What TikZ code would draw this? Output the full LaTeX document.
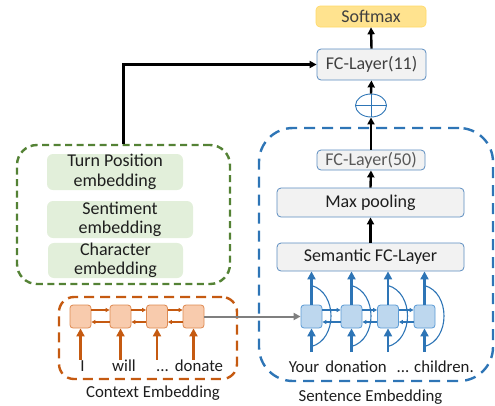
\documentclass[tikz,border=0pt]{standalone}
\usepackage{fontspec}
\setmainfont{Carlito}
\usetikzlibrary{arrows.meta,shapes.geometric,calc}
\definecolor{txtdark}{HTML}{1E1E1E}
\definecolor{txtgrey}{HTML}{404040}
\definecolor{txtlight}{HTML}{595959}
\definecolor{boxblue}{HTML}{5B8CC0}
\definecolor{boxfill}{HTML}{F2F2F2}
\definecolor{softfill}{HTML}{FFE38F}
\definecolor{softdraw}{HTML}{FFD966}
\definecolor{grnfill}{HTML}{E2EFDA}
\definecolor{grndash}{HTML}{548235}
\definecolor{orgdash}{HTML}{C55A11}
\definecolor{orgfill}{HTML}{F8CBAD}
\definecolor{orgdraw}{HTML}{DE8A52}
\definecolor{bludash}{HTML}{2E75B6}
\definecolor{blufill}{HTML}{BDD7EE}
\definecolor{bludraw}{HTML}{5B9BD5}
\definecolor{arrgrey}{HTML}{7F7F7F}
\begin{document}
\begin{tikzpicture}[x=1pt,y=-1pt,
  big/.style={font=\fontsize{18}{19.5}\selectfont},
  small/.style={font=\fontsize{16.8}{18}\selectfont},
  fcbox/.style={big,draw=boxblue,line width=0.8pt,fill=boxfill,rounded corners=4pt,inner sep=0pt,text=txtgrey},
  softbox/.style={big,draw=softdraw,line width=0.6pt,fill=softfill,rounded corners=4pt,inner sep=0pt,text=txtgrey},
  grnbox/.style={big,fill=grnfill,rounded corners=6pt,inner sep=0pt,text=txtdark,align=center},
  grncontainer/.style={draw=grndash,line width=2.4pt,dash pattern=on 7pt off 4.5pt,rounded corners=20pt,inner sep=0pt},
  orgcontainer/.style={draw=orgdash,line width=2.4pt,dash pattern=on 10pt off 6pt,rounded corners=15pt,inner sep=0pt},
  blucontainer/.style={draw=bludash,line width=2.4pt,dash pattern=on 11pt off 7pt,rounded corners=34pt,inner sep=0pt},
  ocell/.style={draw=orgdraw,line width=0.8pt,fill=orgfill,rounded corners=3pt,minimum width=21pt,minimum height=23pt,inner sep=0pt},
  bcell/.style={draw=bludraw,line width=0.8pt,fill=blufill,rounded corners=3pt,minimum width=21pt,minimum height=23pt,inner sep=0pt},
  blk/.style={line width=2.4pt,draw=black,-{Triangle[length=7pt,width=7pt]}},
  ohor/.style={line width=1.3pt,draw=orgdash,-{Triangle[length=4pt,width=4pt]}},
  bhor/.style={line width=1.3pt,draw=bludash,-{Triangle[length=4pt,width=4pt]}},
  overt/.style={line width=2.4pt,draw=orgdash,-{Triangle[length=8pt,width=8pt]}},
  bvert/.style={line width=2.4pt,draw=bludash,-{Triangle[length=8pt,width=8pt]}},
  barc/.style={line width=1.1pt,draw=bludash},
  word/.style={small,text=txtdark,anchor=base,inner sep=0pt},
]
\useasboundingbox (0,0) rectangle (495,405);

% containers
\node[blucontainer,minimum width=234pt,minimum height=253pt] (sentbox) at (376,254.5) {};
\node[orgcontainer,minimum width=178pt,minimum height=82pt] (ctxbox) at (148,338) {};
\node[grncontainer,minimum width=213pt,minimum height=139pt] (featbox) at (123.5,214.5) {};

% feature boxes
\node[grnbox,minimum width=136pt,minimum height=36pt] (turn) at (115,172) {Turn Position\\embedding};
\node[grnbox,minimum width=146pt,minimum height=37pt] (senti) at (120,219.5) {Sentiment\\embedding};
\node[grnbox,minimum width=135pt,minimum height=33pt] (charemb) at (115.5,260.5) {Character\\embedding};

% top stack
\node[softbox,minimum width=110pt,minimum height=21pt] (soft) at (371,16.5) {Softmax};
\node[fcbox,minimum width=109pt,minimum height=31pt] (fc11) at (371.5,64.5) {FC-Layer(11)};
\node[ellipse,draw=bludash,line width=0.9pt,minimum width=31pt,minimum height=23pt,inner sep=0pt] (plus) at (371,105.5) {};
\draw[bludash,line width=0.9pt] (plus.north) -- (plus.south) (plus.west) -- (plus.east);
\node[fcbox,minimum width=108pt,minimum height=20pt,text=txtlight] (fc50) at (371,160) {FC-Layer(50)};
\node[fcbox,minimum width=187pt,minimum height=29pt,text=txtdark] (maxp) at (370.5,202.5) {Max pooling};
\node[fcbox,minimum width=187pt,minimum height=28pt,text=txtdark] (sem) at (370.5,257) {Semantic FC-Layer};

\draw[blk] (fc11.north) -- (soft.south);
\draw[blk] (plus.north) -- (fc11.south);
\draw[blk] (fc50.north) -- (plus.south);
\draw[blk] (maxp.north) -- (fc50.south);
\draw[blk] (sem.north) -- (maxp.south);
\draw[blk] (featbox.north) |- (fc11.west);

% context cells
\node[ocell] (c1) at (80.5,316.5) {};
\node[ocell] (c2) at (120.5,316.5) {};
\node[ocell] (c3) at (157,316.5) {};
\node[ocell] (c4) at (193.5,316.5) {};
\foreach \a/\b in {c1/c2,c2/c3,c3/c4}{
  \draw[ohor] ([yshift=6.5pt]\a.east) -- ([yshift=6.5pt]\b.west);
  \draw[ohor] ([yshift=-5.5pt]\b.west) -- ([yshift=-5.5pt]\a.east);
}
\node[word] (wi) at (82.5,371) {I};
\node[word] (wwill) at (124,371) {will};
\node[word] (wdots) at (162.5,371) {...};
\node[word] (wdon) at (199,371) {donate};
\foreach \c in {c1,c2,c3,c4}{
  \coordinate (in\c) at ($(\c)+(0,43)$);
  \draw[overt] (in\c) -- (\c.south);
}

% sentence cells
\node[bcell] (s1) at (311.5,316.5) {};
\node[bcell] (s2) at (351.5,316.5) {};
\node[bcell] (s3) at (388,316.5) {};
\node[bcell] (s4) at (424.5,316.5) {};
\foreach \a/\b in {s1/s2,s2/s3,s3/s4}{
  \draw[bhor] ([yshift=6.5pt]\a.east) -- ([yshift=6.5pt]\b.west);
  \draw[bhor] ([yshift=-5.5pt]\b.west) -- ([yshift=-5.5pt]\a.east);
}
\foreach \c in {s1,s2,s3,s4}{
  \coordinate (in\c) at ($(\c)+(0,35.5)$);
  \draw[bvert] (in\c) -- (\c.south);
  \draw[bvert] (\c.north) -- (\c.north |- sem.south);
  \draw[barc] ($(\c)+(0,-31)$) .. controls +(26,7) and +(26,-7) .. ($(\c)+(0,30)$);
}
\node[word] (wyour) at (304,372.5) {Your};
\node[word] (wdonation) at (356,372.5) {donation};
\node[word] (wsdots) at (403,372.5) {...};
\node[word] (wchild) at (444,372.5) {children.};

% grey link
\draw[line width=2pt,draw=arrgrey,-{Triangle[length=7pt,width=7pt]}] (c4.east) -- (s1.west);

% labels
\node[small,text=txtdark,inner sep=0pt] (ctxlabel) at (153,393) {Context Embedding};
\node[small,text=txtdark,inner sep=0pt] (sentlabel) at (370.5,397) {Sentence Embedding};
\end{tikzpicture}
\end{document}
